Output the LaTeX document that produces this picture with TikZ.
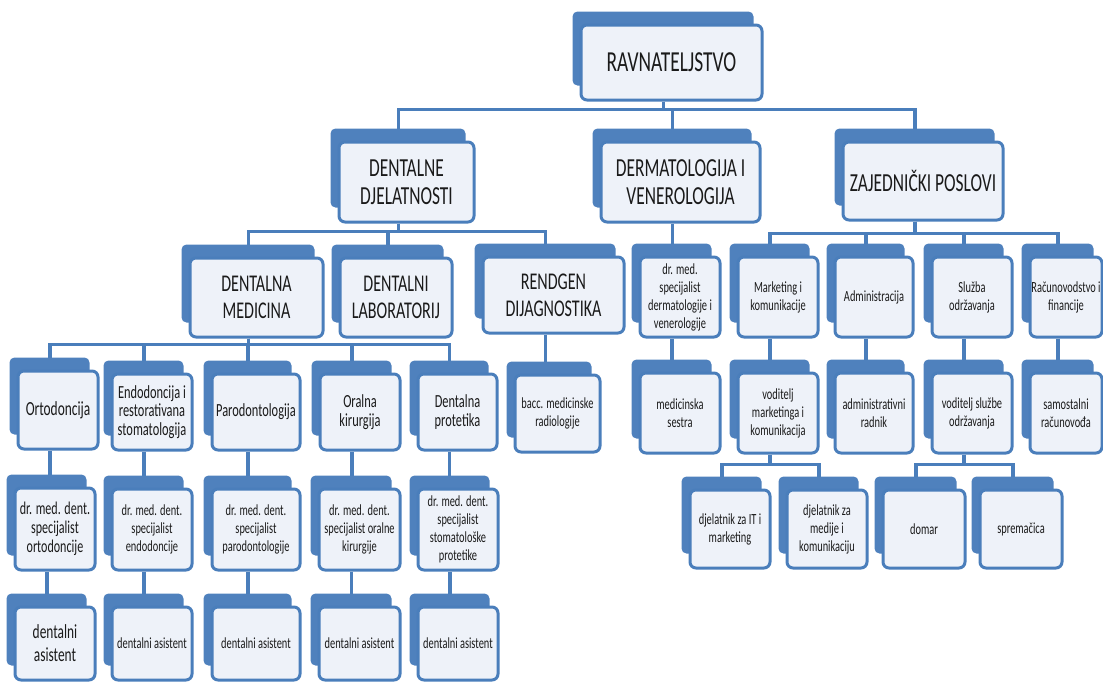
\documentclass[tikz,border=0pt]{standalone}
\usepackage{fontspec}
\setmainfont{Carlito}[FakeStretch=0.67]
\usetikzlibrary{backgrounds}
\definecolor{bk}{HTML}{4F81BD}
\definecolor{ln}{HTML}{4A7EBB}
\definecolor{fr}{HTML}{EEF2F9}
\definecolor{tx}{HTML}{1A1A1A}
\tikzset{
  box/.style={draw=ln, line width=3pt, fill=fr, rounded corners=6pt, inner sep=1pt, align=center, text=tx},
  conn/.style={draw=ln, line width=3.5pt},
  back/.style={fill=bk, rounded corners=5pt},
  fA/.style={font=\fontsize{29}{32}\selectfont},
  fB/.style={font=\fontsize{26}{28}\selectfont},
  fC/.style={font=\fontsize{24}{27}\selectfont},
  fO/.style={font=\fontsize{20}{23}\selectfont},
  fD/.style={font=\fontsize{18.5}{18.5}\selectfont},
  fR/.style={font=\fontsize{18}{19}\selectfont},
  fE/.style={font=\fontsize{15.5}{18}\selectfont},
}
\newcommand\mkbox[7]{\node[box,#6,minimum width={#4-#2},minimum height={#5-#3}] (#1) at ({(#2+#4)/2},{(#3+#5)/2}) {#7};}
\begin{document}
\begin{tikzpicture}[x=1pt,y=-1pt]
\useasboundingbox (0,0) rectangle (1103,681);
% level 1
\mkbox{rav}{581}{25}{762}{100}{fA}{RAVNATELJSTVO}
% level 2
\mkbox{dd}{339}{142}{474}{222}{fB}{DENTALNE\\DJELATNOSTI}
\mkbox{dv}{601}{142}{760}{222}{fB}{DERMATOLOGIJA I\\VENEROLOGIJA}
\mkbox{zp}{843}{142}{1003}{220}{fB}{ZAJEDNIČKI POSLOVI}
% level 3
\mkbox{dm}{190}{258}{323}{337}{fC}{DENTALNA\\MEDICINA}
\mkbox{dl}{340}{258}{452}{337}{fC}{DENTALNI\\LABORATORIJ}
\mkbox{rd}{483}{257}{624}{333}{fC}{RENDGEN\\DIJAGNOSTIKA}
\mkbox{dvs}{640}{257}{720}{337}{fE}{dr. med.\\specijalist\\dermatologije i\\venerologije}
\mkbox{mk}{738}{257}{818}{337}{fE}{Marketing i\\komunikacije}
\mkbox{adm}{835}{257}{913}{337}{fE}{Administracija}
\mkbox{sl}{932}{257}{1012}{337}{fE}{Služba\\održavanja}
\mkbox{rac}{1030}{257}{1102}{337}{fE}{Računovodstvo i\\financije}
% level 4
\mkbox{ort}{18}{371}{98}{449}{fO}{Ortodoncija}
\mkbox{endo}{112}{374}{192}{450}{fD}{Endodoncija i\\restorativana\\stomatologija}
\mkbox{paro}{212}{374}{300}{450}{fD}{Parodontologija}
\mkbox{oral}{320}{374}{400}{450}{fD}{Oralna\\kirurgija}
\mkbox{prot}{418}{374}{497}{450}{fD}{Dentalna\\protetika}
\mkbox{bacc}{515}{375}{600}{452}{fE}{bacc. medicinske\\radiologije}
\mkbox{ms}{640}{373}{720}{453}{fE}{medicinska\\sestra}
\mkbox{vm}{738}{373}{818}{453}{fE}{voditelj\\marketinga i\\komunikacija}
\mkbox{ar}{835}{373}{913}{453}{fE}{administrativni\\radnik}
\mkbox{vs}{932}{373}{1012}{453}{fE}{voditelj službe\\održavanja}
\mkbox{sr}{1030}{373}{1102}{453}{fE}{samostalni\\računovođa}
% level 5
\mkbox{dr1}{15}{488}{95}{570}{fR}{dr. med. dent.\\specijalist\\ortodoncije}
\mkbox{dr2}{112}{489}{192}{570}{fE}{dr. med. dent.\\specijalist\\endodoncije}
\mkbox{dr3}{212}{489}{300}{570}{fE}{dr. med. dent.\\specijalist\\parodontologije}
\mkbox{dr4}{319}{489}{400}{570}{fE}{dr. med. dent.\\specijalist oralne\\kirurgije}
\mkbox{dr5}{418}{489}{498}{570}{fE}{dr. med. dent.\\specijalist\\stomatološke\\protetike}
\mkbox{it}{690}{490}{770}{568}{fE}{djelatnik za IT i\\marketing}
\mkbox{med}{787}{490}{867}{568}{fE}{djelatnik za\\medije i\\komunikaciju}
\mkbox{dom}{883}{490}{965}{568}{fE}{domar}
\mkbox{spr}{980}{490}{1062}{568}{fE}{spremačica}
% level 6
\mkbox{da1}{15}{607}{95}{680}{fO}{dentalni\\asistent}
\mkbox{da2}{112}{607}{192}{680}{fE}{dentalni asistent}
\mkbox{da3}{212}{607}{300}{680}{fE}{dentalni asistent}
\mkbox{da4}{319}{607}{400}{680}{fE}{dentalni asistent}
\mkbox{da5}{418}{607}{498}{680}{fE}{dentalni asistent}
\begin{scope}[on background layer]
  % connectors
  \foreach \c in {dd,dv,zp}
    \draw[conn] ([xshift=-8pt]rav.south) -- ++(0,8) -| ([xshift=-8pt]\c.north);
  \foreach \c in {dm,dl,rd}
    \draw[conn] ([xshift=-8pt]dd.south) -- ++(0,8) -| ([xshift=-8pt]\c.north);
  \foreach \c in {ort,endo,paro,oral,prot}
    \draw[conn] ([xshift=-8pt]dm.south) -- ++(0,6) -| ([xshift=-8pt]\c.north);
  \foreach \c in {mk,adm,sl,rac}
    \draw[conn] ([xshift=-8pt]zp.south) -- ++(0,12) -| ([xshift=-8pt]\c.north);
  \foreach \c in {it,med}
    \draw[conn] ([xshift=-8pt]vm.south) -- ++(0,10) -| ([xshift=-8pt]\c.north);
  \foreach \c in {dom,spr}
    \draw[conn] ([xshift=-8pt]vs.south) -- ++(0,10) -| ([xshift=-8pt]\c.north);
  \foreach \p/\c in {dv/dvs,rd/bacc,dvs/ms,mk/vm,adm/ar,sl/vs,rac/sr,
                     ort/dr1,endo/dr2,paro/dr3,oral/dr4,prot/dr5,
                     dr1/da1,dr2/da2,dr3/da3,dr4/da4,dr5/da5}
    \draw[conn] ([xshift=-8pt]\p.south) -- ([xshift=-8pt]\p.south |- \c.north);
  % back plates
  \foreach \n in {rav,dd,dv,zp,dm,dl,rd,dvs,mk,adm,sl,rac,ort,endo,paro,oral,prot,bacc,ms,vm,ar,vs,sr,
                  dr1,dr2,dr3,dr4,dr5,it,med,dom,spr,da1,da2,da3,da4,da5}
    \fill[back] ([xshift=-7pt,yshift=12pt]\n.north west) rectangle ([xshift=-10pt,yshift=16pt]\n.south east);
\end{scope}
\end{tikzpicture}
\end{document}
